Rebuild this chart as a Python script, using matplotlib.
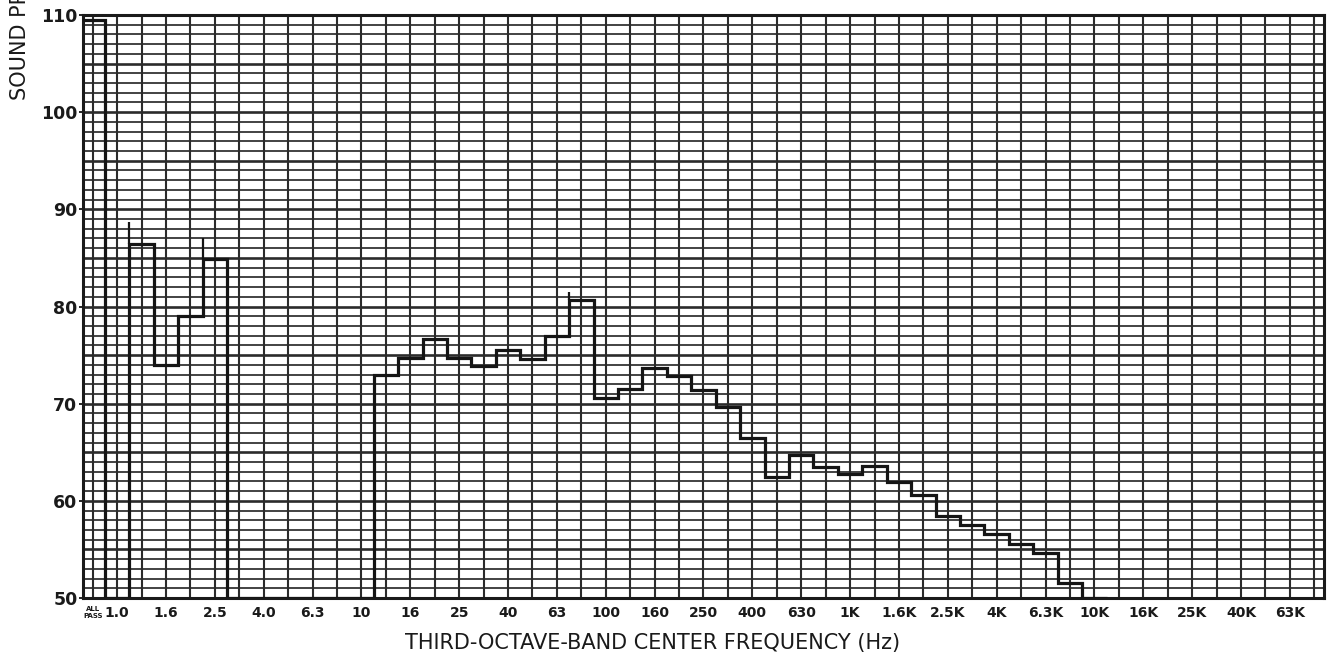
import numpy as np
import matplotlib
matplotlib.use("Agg")
import matplotlib.pyplot as plt

# third-octave band index: -1 = ALL PASS, 0 = 1.0 Hz, 1 = 1.25 Hz, ... 40 = 10 kHz
band_index = list(range(-1, 41))
level_db = [109.5,                                   # ALL PASS
            50.0, 86.4, 74.0, 79.0, 84.9,            # 1.0 .. 2.5
            50.0, 50.0, 50.0, 50.0, 50.0, 50.0,      # 3.15 .. 10
            73.0, 74.7, 76.7, 74.7, 73.9, 75.5,      # 12.5 .. 40
            74.6, 77.0, 80.7, 70.6, 71.5, 73.7,      # 50 .. 160
            72.8, 71.4, 69.7, 66.5, 62.5, 64.7,      # 200 .. 630
            63.5, 62.8, 63.6, 61.9, 60.6, 58.4,      # 800 .. 2.5K
            57.5, 56.6, 55.6, 54.6, 51.5, 50.0]      # 3.15K .. 10K

# small peak marks left by the recorder pen
peak_bands = [1, 4, 19]
peak_levels = [88.7, 87.1, 81.5]

label_bands = [-1] + list(range(0, 49, 2))
label_text = ["ALL\nPASS", "1.0", "1.6", "2.5", "4.0", "6.3", "10", "16", "25", "40", "63",
              "100", "160", "250", "400", "630", "1K", "1.6K", "2.5K", "4K", "6.3K",
              "10K", "16K", "25K", "40K", "63K"]

y_ticks = [50, 60, 70, 80, 90, 100, 110]

W, H = 1332, 659
fig = plt.figure(figsize=(W / 100, H / 100), dpi=100)
ax = fig.add_axes([83 / W, 1 - 598 / H, (1324 - 83) / W, (598 - 15) / H])

narrow = ["Liberation Sans Narrow", "DejaVu Sans"]

ax.set_xlim(-1.4, 49.4)
ax.set_ylim(50, 110)

# chart paper grid: one line per dB, heavier every 5 dB, one line per band
for v in np.arange(51, 110, 1):
    heavy = v % 5 == 0
    ax.axhline(v, color="#2b2b2b", lw=1.9 if heavy else 1.25, zorder=1)
for b in range(-1, 50):
    ax.axvline(b, color="#2b2b2b", lw=1.5, zorder=1)

edges = np.append(np.array(band_index) - 0.5, band_index[-1] + 0.5)
ax.stairs(level_db, edges, baseline=None, color="#151515", lw=2.3, zorder=3)

lvl = dict(zip(band_index, level_db))
for b, p in zip(peak_bands, peak_levels):
    ax.vlines(b - 0.5, lvl[b], p, color="#151515", lw=1.6, zorder=3)

for s in ax.spines.values():
    s.set_linewidth(2.2)
    s.set_color("#1a1a1a")

ax.set_yticks(y_ticks)
ax.set_yticklabels([str(v) for v in y_ticks], family=narrow, fontsize=12.5,
                   fontweight="bold", color="#1a1a1a")
ax.tick_params(axis="y", length=3, width=1.2, pad=1)

ax.set_xticks(label_bands)
ax.set_xticklabels(label_text, family=narrow, fontsize=10, fontweight="bold",
                   color="#1a1a1a")
ax.get_xticklabels()[0].set_fontsize(5)
ax.tick_params(axis="x", length=0, pad=6)

fig.text(653 / W, 1 - 643 / H, "THIRD-OCTAVE-BAND CENTER FREQUENCY (Hz)",
         ha="center", va="center", fontsize=15, color="#1a1a1a")
fig.text(20 / W, 1 - 100 / H, "SOUND PRESSURE LEVEL (dB)", rotation=90,
         ha="center", va="bottom", fontsize=15, color="#1a1a1a")

fig.savefig("out.png", dpi=100)
